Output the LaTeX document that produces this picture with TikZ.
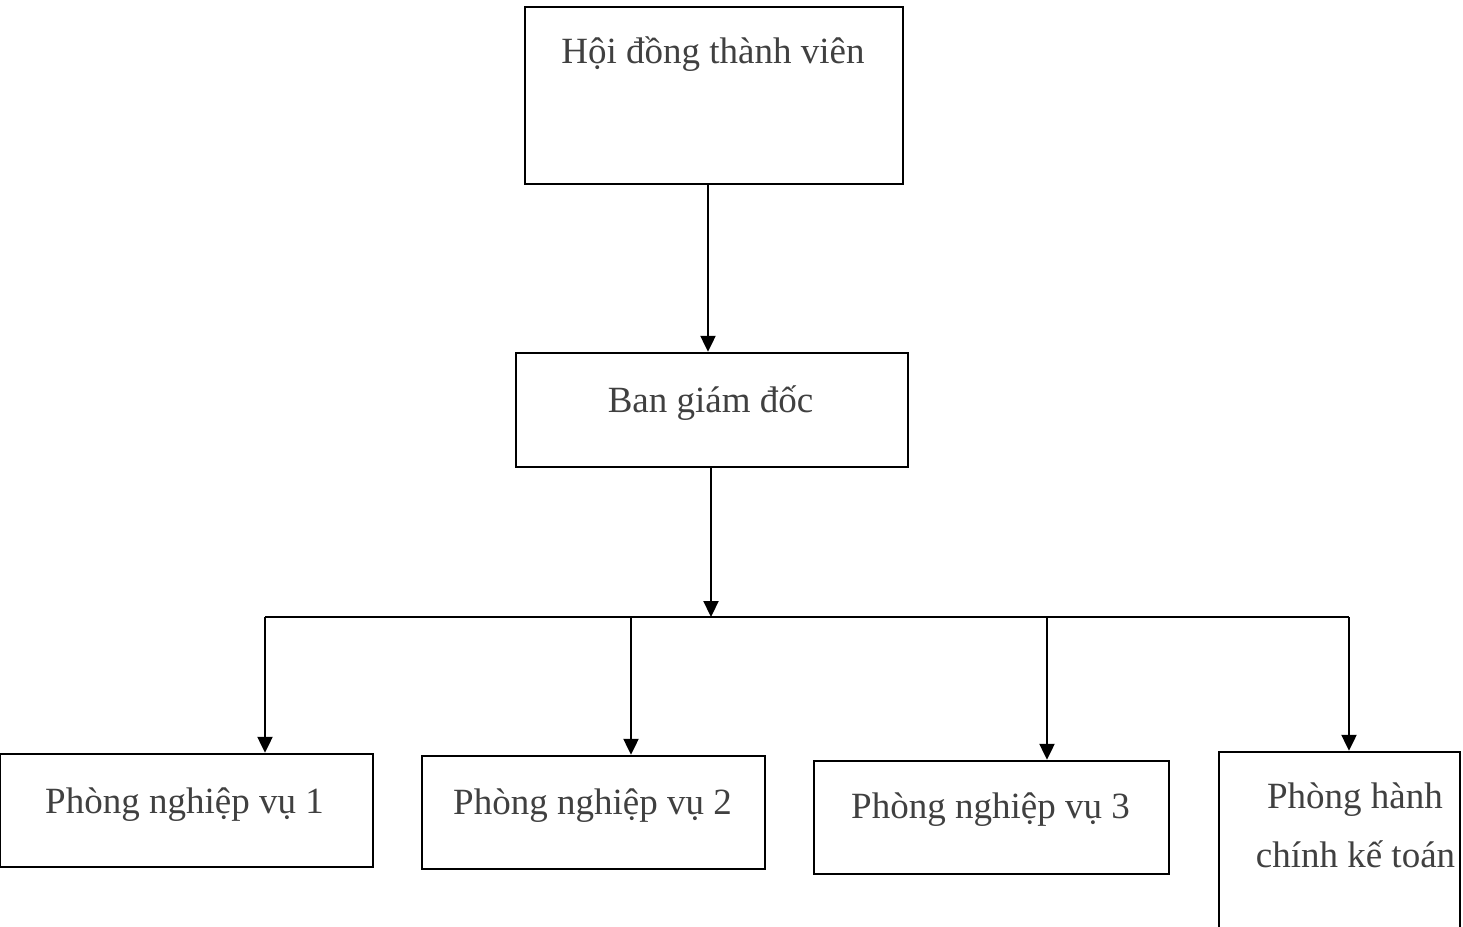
\documentclass[tikz,border=0pt]{standalone}
\usepackage{fontspec}
\setmainfont{Liberation Serif}
\usetikzlibrary{arrows.meta}
\definecolor{txt}{HTML}{404040}
\tikzset{
  box/.style={draw=black, line width=1.2pt, rectangle, inner sep=0pt},
  lbl/.style={text=txt, anchor=base, inner sep=0pt, font=\fontsize{18.5}{22}\selectfont},
  link/.style={draw=black, line width=1.1pt},
  arr/.style={link, -{Triangle[length=8pt,width=7.5pt]}}
}
\begin{document}
\begin{tikzpicture}[x=0.5pt, y=-0.5pt]
\useasboundingbox (0,0) rectangle (1463,927);
\clip (0,0) rectangle (1463,927);

% boxes
\node[box, minimum width=189pt, minimum height=88.5pt] (hdtv) at (714,95.5) {};
\node[box, minimum width=196pt, minimum height=57pt] (bgd) at (712,410) {};
\node[box, minimum width=186.5pt, minimum height=56.5pt] (p1) at (186.5,810.5) {};
\node[box, minimum width=171.5pt, minimum height=56.5pt] (p2) at (593.5,812.5) {};
\node[box, minimum width=177.5pt, minimum height=56.5pt] (p3) at (991.5,817.5) {};
\node[box, minimum width=120.5pt, minimum height=104pt] (p4) at (1339.5,856) {};

% labels
\node[lbl] (thdtv) at (713,63) {Hội đồng thành viên};
\node[lbl] (tbgd) at (710.5,412) {Ban giám đốc};
\node[lbl] (tp1) at (184.5,813) {Phòng nghiệp vụ 1};
\node[lbl] (tp2) at (592.5,814) {Phòng nghiệp vụ 2};
\node[lbl] (tp3) at (990.5,818) {Phòng nghiệp vụ 3};
\node[lbl] (tp4a) at (1355,808) {Phòng hành};
\node[lbl] (tp4b) at (1355.5,867) {chính kế toán};

% connector points
\coordinate (c0) at (708,0);
\coordinate (bm) at (711,617);
\coordinate (b1) at (265,617);
\coordinate (b2) at (631,617);
\coordinate (b3) at (1047,617);
\coordinate (b4) at (1349,617);

% connectors
\draw[arr] (hdtv.south -| c0) -- (bgd.north -| c0);
\draw[arr] (bgd.south -| bm) -- (bm);
\draw[link] (b1) -- (b4);
\draw[arr] (b1) -- (b1 |- p1.north);
\draw[arr] (b2) -- (b2 |- p2.north);
\draw[arr] (b3) -- (b3 |- p3.north);
\draw[arr] (b4) -- (b4 |- p4.north);
\end{tikzpicture}
\end{document}
